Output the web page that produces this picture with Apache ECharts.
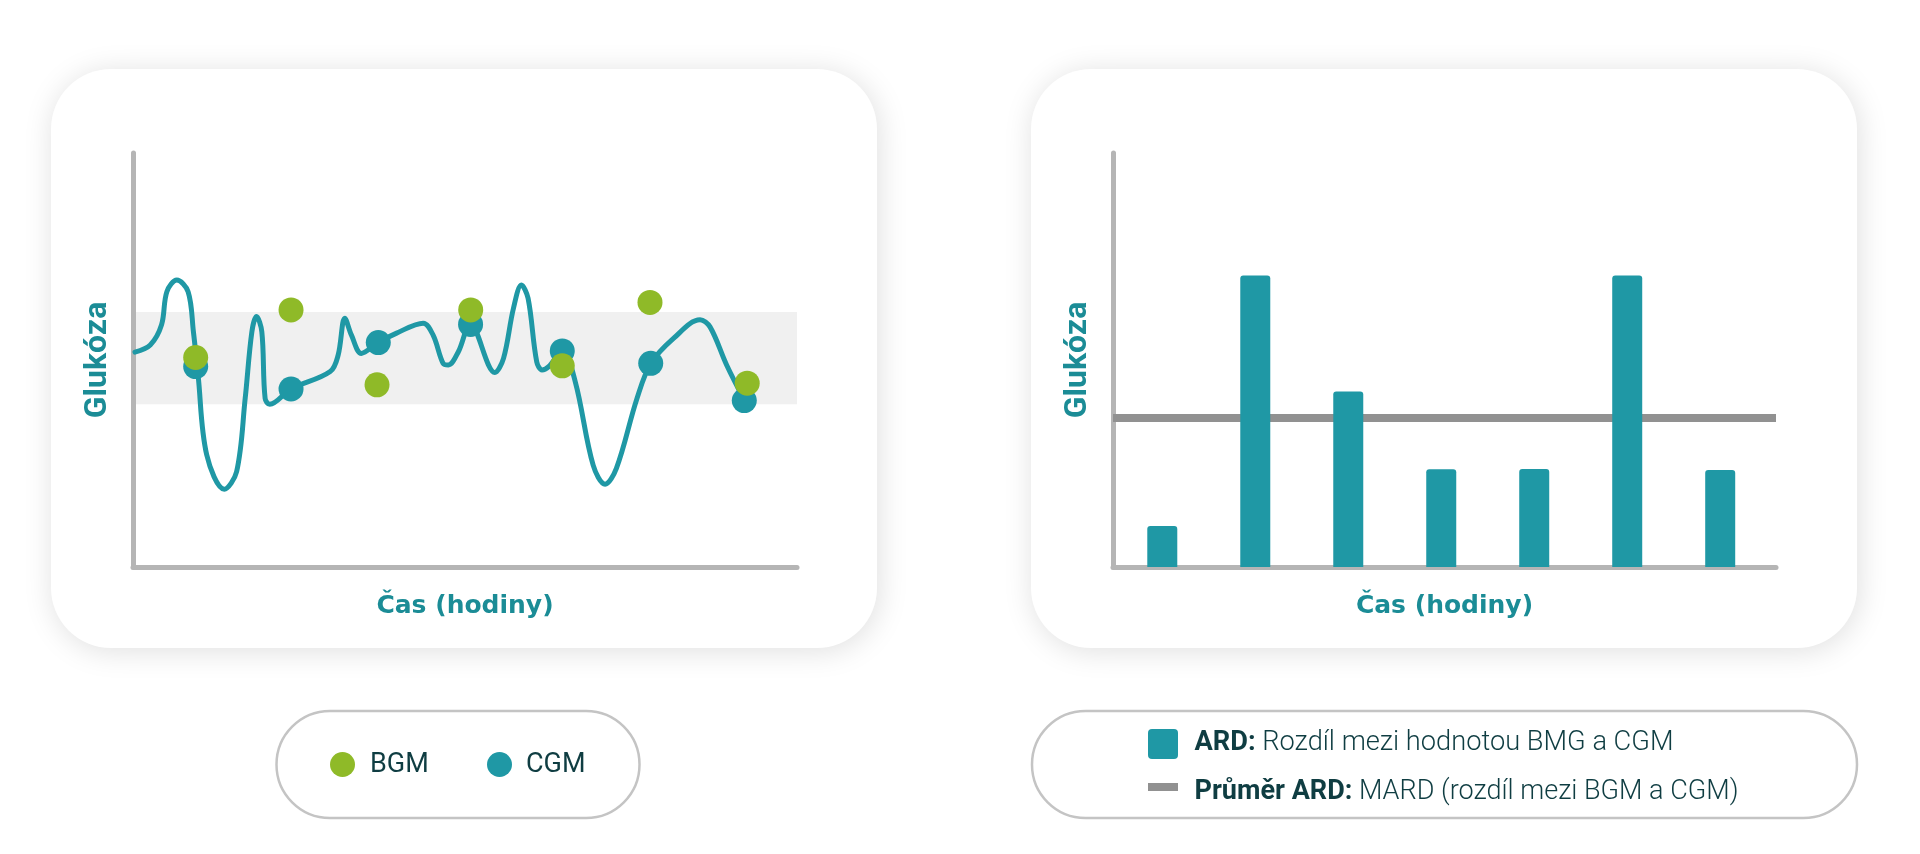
<!DOCTYPE html>
<html>
<head>
<meta charset="utf-8">
<script src="https://cdn.jsdelivr.net/npm/echarts@6/dist/echarts.min.js"></script>
<style>
html,body{margin:0;padding:0;background:#ffffff;}
#chart{width:1920px;height:854px;}
</style>
</head>
<body>
<div id="chart"></div>
<script>
// ---- data (left chart: glucose over time, 0..100 scales) ----
const curveTime = [0.3, 2.6, 4.3, 5.1, 6.6, 8.3, 9.1, 9.8, 11.1, 13.75, 15.6, 16.9, 17.9, 18.6, 19.4, 19.9, 20.6, 23.8, 29.7, 30.9, 31.9, 32.9, 34.4, 36.9, 39.7, 43.7, 45.2, 46.7, 47.5, 49.0, 50.8, 54.5, 55.8, 57.3, 58.5, 59.5, 60.8, 61.6, 62.6, 64.65, 66.6, 69.3, 71.1, 72.8, 75.9, 78.0, 81.4, 85.4, 86.9, 89.4, 92.1];
const curveGlucose = [51.9, 53.6, 58.5, 66.5, 69.3, 66.5, 56.8, 46.4, 27.1, 18.8, 23.0, 40.8, 56.8, 60.5, 56.8, 40.7, 39.3, 43.0, 47.2, 51.2, 60.1, 56.0, 51.6, 54.2, 56.5, 58.9, 56.0, 49.2, 48.8, 52.0, 58.6, 47.0, 50.4, 62.5, 68.1, 64.9, 49.6, 47.6, 48.4, 52.2, 44.8, 24.6, 20.0, 23.8, 40.7, 49.2, 55.2, 59.7, 58.0, 48.8, 40.2];
const bgmTime = [9.44, 23.8, 36.75, 50.86, 64.65, 77.86, 92.5];
const bgmGlucose = [50.6, 62.1, 44.0, 62.1, 48.6, 63.9, 44.4];
const cgmTime = [9.44, 23.8, 36.94, 50.84, 64.65, 77.97, 92.06];
const cgmGlucose = [48.4, 43.0, 54.2, 58.6, 52.2, 49.2, 40.2];
const targetLow = 39.3;
const targetHigh = 61.6;

// ---- data (right chart: ARD bars and MARD) ----
const ardTime = [0.53, 1.53, 2.53, 3.53, 4.53, 5.53, 6.53];
const ardValue = [9.9, 70.4, 42.4, 23.6, 23.7, 70.4, 23.4];
const mardValue = 36;
const ardTimeMax = 7.13;

// ---- texts ----
const yTitle = 'Glukóza';
const xTitle = 'Čas (hodiny)';
const legendLeft = ['BGM', 'CGM'];
const legendRightBold = ['ARD:', 'Průměr ARD:'];
const legendRightText = [' Rozdíl mezi hodnotou BMG a CGM', ' MARD (rozdíl mezi BGM a CGM)'];

// ---- colours ----
const TEAL = '#1f98a5';
const GREEN = '#8fba28';
const TITLE = '#1b8c96';
const AXIS = '#b5b5b5';
const MEAN = '#919191';
const DARK = '#0f3d42';
const BAND = '#f0f0f0';

const zip = (a, b) => a.map((v, i) => [v, b[i]]);

// text measuring for the condensed legend
const mctx = document.createElement('canvas').getContext('2d');
function tw(t, font) { mctx.font = font; return mctx.measureText(t).width; }
const LFAM = 'Roboto';
const LSIZE = 28;
function legendScale(i, target) {
  const w = tw(legendRightBold[i], `bold ${LSIZE}px ${LFAM}`) + tw(legendRightText[i], `300 ${LSIZE}px ${LFAM}`);
  return target / w;
}

const axisCommon = {
  axisLine: { show: true, onZero: false, lineStyle: { color: AXIS, width: 5 } },
  axisTick: { show: false },
  axisLabel: { show: false },
  splitLine: { show: false }
};
const xName = {
  name: xTitle, nameLocation: 'middle', nameGap: 27,
  nameTextStyle: { color: TITLE, fontSize: 25, fontWeight: 'bold', fontFamily: 'DejaVu Sans' }
};
const yName = {
  name: yTitle, nameLocation: 'middle', nameGap: 19, nameRotate: 90,
  nameTextStyle: { color: TITLE, fontSize: 32, fontWeight: 'bold', fontFamily: 'Roboto' }
};

function card(x) {
  return {
    type: 'rect', z: -10,
    shape: { x: x, y: 69, width: 826, height: 579, r: 60 },
    style: { fill: '#ffffff', shadowBlur: 30, shadowColor: 'rgba(0,0,0,0.13)', shadowOffsetX: 2, shadowOffsetY: 3 }
  };
}
function pill(x, w) {
  return {
    type: 'rect', z: -5,
    shape: { x: x, y: 711, width: w, height: 107, r: 53.5 },
    style: { fill: '#ffffff', stroke: '#c4c4c4', lineWidth: 2.5 }
  };
}

const graphic = [
  card(51), card(1031),
  pill(276.5, 363), pill(1032, 825),
  { type: 'circle', shape: { cx: 342.5, cy: 764.5, r: 12.5 }, style: { fill: GREEN } },
  { type: 'text', x: 370, y: 765, style: { text: legendLeft[0], fill: DARK, fontSize: 27, fontFamily: 'Roboto', verticalAlign: 'middle', align: 'left' } },
  { type: 'circle', shape: { cx: 499.5, cy: 764.5, r: 12.5 }, style: { fill: TEAL } },
  { type: 'text', x: 526, y: 765, style: { text: legendLeft[1], fill: DARK, fontSize: 27, fontFamily: 'Roboto', verticalAlign: 'middle', align: 'left' } },
  { type: 'rect', shape: { x: 1148, y: 729, width: 30, height: 30, r: 4 }, style: { fill: TEAL } },
  { type: 'rect', shape: { x: 1148, y: 783, width: 30, height: 8 }, style: { fill: MEAN } },
  { type: 'text', x: 1194.5, y: 743, scaleX: legendScale(0, 479),
    style: { text: '{b|' + legendRightBold[0] + '}{r|' + legendRightText[0] + '}', verticalAlign: 'middle', align: 'left',
      rich: { b: { fontWeight: 'bold', fontSize: LSIZE, fontFamily: LFAM, fill: DARK, color: DARK },
              r: { fontWeight: 300, fontSize: LSIZE, fontFamily: LFAM, fill: DARK, color: DARK } } } },
  { type: 'text', x: 1194.5, y: 792, scaleX: legendScale(1, 544),
    style: { text: '{b|' + legendRightBold[1] + '}{r|' + legendRightText[1] + '}', verticalAlign: 'middle', align: 'left',
      rich: { b: { fontWeight: 'bold', fontSize: LSIZE, fontFamily: LFAM, fill: DARK, color: DARK },
              r: { fontWeight: 300, fontSize: LSIZE, fontFamily: LFAM, fill: DARK, color: DARK } } } }
];

const option = {
  animation: false,
  backgroundColor: '#ffffff',
  graphic: graphic,
  grid: [
    { left: 133, top: 153, width: 664, height: 414 },
    { left: 1113, top: 153, width: 663, height: 414 }
  ],
  xAxis: [
    Object.assign({ type: 'value', gridIndex: 0, min: 0, max: 100 }, axisCommon, xName),
    Object.assign({ type: 'value', gridIndex: 1, min: 0, max: ardTimeMax }, axisCommon, xName)
  ],
  yAxis: [
    Object.assign({ type: 'value', gridIndex: 0, min: 0, max: 100 }, axisCommon, yName),
    Object.assign({ type: 'value', gridIndex: 1, min: 0, max: 100 }, axisCommon, yName)
  ],
  series: [
    {
      name: 'CGM křivka', type: 'line', xAxisIndex: 0, yAxisIndex: 0,
      data: zip(curveTime, curveGlucose), smooth: 0.35, showSymbol: false, symbol: 'none',
      lineStyle: { color: TEAL, width: 5, cap: 'round', join: 'round' }, z: 2, silent: true,
      markArea: { silent: true, itemStyle: { color: BAND }, z: 0,
        data: [[{ yAxis: targetLow }, { yAxis: targetHigh }]] }
    },
    {
      name: 'CGM', type: 'scatter', xAxisIndex: 0, yAxisIndex: 0,
      data: zip(cgmTime, cgmGlucose), symbolSize: 25, itemStyle: { color: TEAL, opacity: 1 }, z: 3
    },
    {
      name: 'BGM', type: 'scatter', xAxisIndex: 0, yAxisIndex: 0,
      data: zip(bgmTime, bgmGlucose), symbolSize: 25, itemStyle: { color: GREEN, opacity: 1 }, z: 4
    },
    {
      name: 'Průměr ARD', type: 'line', xAxisIndex: 1, yAxisIndex: 1,
      data: [[0, mardValue], [ardTimeMax, mardValue]], symbol: 'none',
      lineStyle: { color: MEAN, width: 8, cap: 'butt' }, z: 1, silent: true
    },
    {
      name: 'ARD', type: 'bar', xAxisIndex: 1, yAxisIndex: 1,
      data: zip(ardTime, ardValue), barWidth: 30,
      itemStyle: { color: TEAL, borderRadius: [3, 3, 0, 0] }, z: 3
    }
  ]
};

const chart = echarts.init(document.getElementById('chart'), null, { renderer: 'canvas' });
chart.setOption(option);
</script>
</body>
</html>
